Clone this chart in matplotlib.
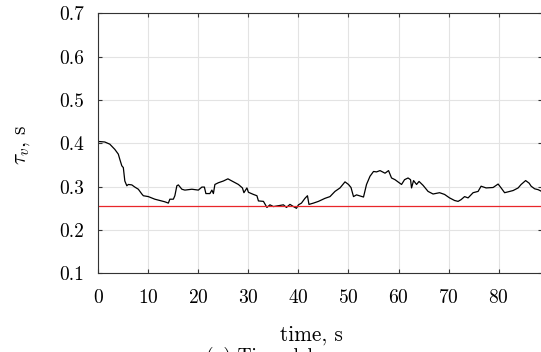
import matplotlib
matplotlib.use("Agg")
import matplotlib.pyplot as plt
import numpy as np

plt.rcParams['font.family'] = 'serif'
plt.rcParams['font.serif'] = ['cmr10']
plt.rcParams['mathtext.fontset'] = 'cm'
plt.rcParams['axes.formatter.use_mathtext'] = True
plt.rcParams['font.size'] = 14

# time delay estimate
time = [0.0, 0.3, 1.3, 2.3, 3.3, 4.0, 4.3, 4.7, 5.0, 5.3, 5.7, 6.0, 6.7, 7.3,
        8.0, 8.7, 9.0, 10.0, 11.3, 12.3, 13.3, 14.0, 14.3, 15.0, 15.3, 15.7,
        16.0, 16.7, 17.3, 18.7, 20.0, 20.7, 21.2, 21.5, 22.3, 22.7, 23.0,
        23.3, 24.0, 25.0, 25.9, 26.7, 28.0, 28.8, 29.1, 29.7, 30.0, 31.0,
        31.7, 32.0, 33.0, 33.7, 34.3, 35.0, 36.0, 37.0, 37.6, 38.3, 39.0,
        39.6, 40.0, 40.6, 41.3, 41.8, 42.1, 43.0, 44.0, 45.3, 46.3, 47.3,
        48.3, 49.3, 50.0, 50.5, 51.0, 51.6, 53.0, 53.6, 54.3, 55.0, 55.6,
        56.3, 57.3, 58.0, 58.6, 59.3, 60.6, 61.2, 61.9, 62.4, 62.6, 63.0,
        63.6, 64.1, 64.9, 65.9, 66.9, 68.2, 69.2, 70.2, 71.2, 71.9, 72.5,
        73.2, 73.9, 74.9, 75.9, 76.5, 77.5, 78.9, 79.9, 80.5, 81.2, 81.9,
        82.9, 83.9, 84.5, 85.4, 86.1, 86.5, 87.2, 87.9, 88.6]
tau = [0.404, 0.404, 0.403, 0.398, 0.386, 0.375, 0.363, 0.348, 0.344, 0.313,
       0.302, 0.305, 0.304, 0.299, 0.294, 0.283, 0.279, 0.277, 0.271, 0.268,
       0.265, 0.262, 0.271, 0.271, 0.279, 0.302, 0.304, 0.294, 0.292, 0.294,
       0.292, 0.299, 0.299, 0.284, 0.284, 0.292, 0.284, 0.305, 0.309, 0.313,
       0.318, 0.313, 0.305, 0.297, 0.286, 0.297, 0.287, 0.282, 0.279, 0.267,
       0.266, 0.252, 0.258, 0.254, 0.256, 0.258, 0.252, 0.259, 0.254, 0.250,
       0.258, 0.262, 0.273, 0.279, 0.259, 0.262, 0.266, 0.273, 0.277, 0.289,
       0.297, 0.311, 0.305, 0.298, 0.277, 0.281, 0.276, 0.305, 0.324, 0.335,
       0.334, 0.337, 0.331, 0.337, 0.320, 0.316, 0.305, 0.316, 0.320, 0.316,
       0.297, 0.314, 0.305, 0.312, 0.303, 0.289, 0.283, 0.286, 0.282, 0.274,
       0.268, 0.266, 0.270, 0.277, 0.274, 0.286, 0.289, 0.301, 0.297, 0.298,
       0.306, 0.297, 0.286, 0.288, 0.291, 0.297, 0.305, 0.314, 0.308, 0.301,
       0.295, 0.293, 0.289]
tau_ref = 0.256

xticks = [0, 10, 20, 30, 40, 50, 60, 70, 80]
yticks = [0.1, 0.2, 0.3, 0.4, 0.5, 0.6, 0.7]

fig = plt.figure(figsize=(5.41, 3.52), dpi=100)
ax = fig.add_axes([98.3 / 541, 1 - 273.3 / 352, (541.5 - 98.3) / 541, (273.3 - 13.3) / 352])

ax.plot(time, tau, color='black', lw=0.9)
ax.axhline(tau_ref, color='#e8262a', lw=0.9)

ax.set_xlim(0, 88.57)
ax.set_ylim(0.1, 0.7)
ax.set_xticks(xticks)
ax.set_yticks(yticks)
ax.set_yticklabels(['%.1f' % v for v in yticks])
ax.grid(True, color='#e3e3e3', lw=0.8)
ax.set_axisbelow(True)
ax.tick_params(direction='in', length=3, width=0.8, color='#333333',
               top=True, right=True)
ax.tick_params(axis='x', pad=11)
ax.tick_params(axis='y', pad=10)
for s in ax.spines.values():
    s.set_color('#333333')
    s.set_linewidth(0.8)

fig.text(22 / 541, 1 - 145 / 352, r'$\tau_v$, s', rotation=90,
         ha='center', va='center', fontsize=15.4)
fig.text(311 / 541, 1 - 335 / 352, 'time, s', ha='center', va='center',
         fontsize=15.4)
fig.text(206 / 541, 1 - 347 / 352, '(a) Time delay', ha='left', va='top',
         fontsize=14)

fig.savefig('out.png', dpi=100)
